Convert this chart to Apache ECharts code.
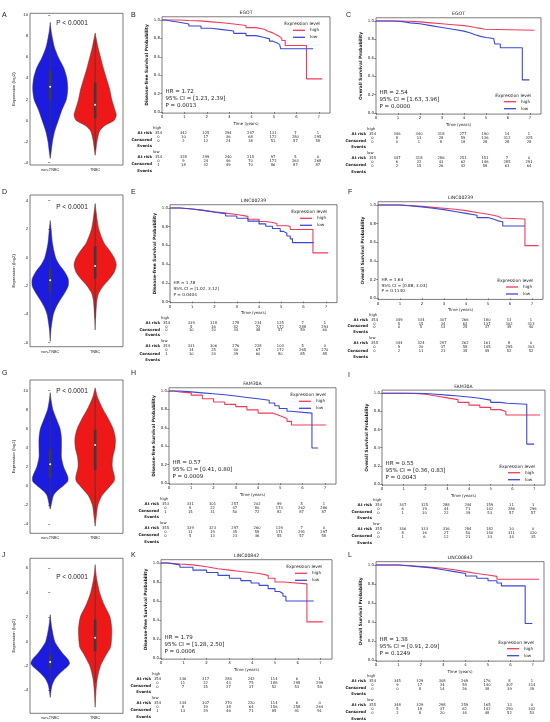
<!DOCTYPE html>
<html>
<head>
<meta charset="utf-8">
<title>TNBC lncRNA expression and survival</title>
<script src="https://cdn.jsdelivr.net/npm/echarts@6/dist/echarts.min.js"></script>
<style>
  html, body { margin: 0; padding: 0; background: #fff; }
  #main { width: 550px; height: 722px; }
</style>
</head>
<body>
<div id="main"></div>
<script type="text/javascript">
// ---------- data ----------
var GROUPS = ['non-TNBC', 'TNBC'];
var TIMES = [0, 1, 2, 3, 4, 5, 6, 7];
var KM_TICKS = [0, 0.2, 0.4, 0.6, 0.8, 1.0];

// violin profiles: [expression, half width (category units)]
var A_NON = [[9.3,0],[8.5,0.02],[8,0.04],[7,0.09],[6,0.18],[5,0.30],[4,0.37],[3,0.39],[2,0.36],[1,0.26],[0,0.18],[-1,0.10],[-2,0.05],[-3,0.02],[-3.6,0]];
var A_TN = [[8.3,0],[7,0.06],[6,0.12],[5,0.18],[4,0.25],[3,0.32],[2,0.37],[1,0.44],[0.5,0.47],[0,0.42],[-0.5,0.21],[-1,0.10],[-2,0.04],[-3,0.01],[-3.3,0]];
var D_NON = [[2.6,0],[2,0.02],[1,0.05],[0,0.12],[-0.5,0.2],[-1,0.32],[-1.5,0.40],[-2,0.40],[-2.5,0.32],[-3,0.22],[-3.5,0.13],[-4,0.07],[-5,0.02],[-5.9,0]];
var D_TN = [[3.8,0],[3,0.03],[2,0.08],[1,0.2],[0.5,0.32],[0,0.42],[-0.5,0.47],[-1,0.43],[-1.5,0.32],[-2,0.18],[-2.5,0.08],[-3,0.04],[-4,0.015],[-5.1,0]];
var G_NON = [[9.8,0],[9,0.02],[8,0.06],[7,0.14],[6,0.22],[5,0.25],[4,0.25],[3,0.25],[2,0.30],[1,0.39],[0.5,0.39],[0,0.28],[-0.5,0.15],[-1,0.07],[-2,0.02],[-2.4,0]];
var G_TN = [[10.3,0],[9.5,0.04],[9,0.08],[8,0.18],[7,0.3],[6,0.4],[5,0.45],[4,0.44],[3,0.39],[2,0.38],[1,0.43],[0.5,0.42],[0,0.33],[-1,0.15],[-2,0.06],[-3,0.03],[-4.2,0]];
var J_NON = [[2.2,0],[1.5,0.02],[1,0.04],[0,0.1],[-0.5,0.18],[-1,0.28],[-1.5,0.4],[-1.8,0.43],[-2,0.40],[-2.5,0.25],[-3,0.12],[-3.5,0.05],[-4,0.02],[-4.6,0]];
var J_TN = [[6.3,0],[5.5,0.02],[5,0.04],[4,0.1],[3,0.2],[2,0.33],[1,0.37],[0,0.36],[-0.5,0.34],[-1,0.26],[-2,0.12],[-3,0.05],[-4,0.02],[-5.4,0]];
// inner box: [lower whisker, q1, median, q3, upper whisker]
var A_BOX_NON = [-1.8, 1.9, 3.2, 4.7, 8.2];
var A_BOX_TN = [-2.8, 0.2, 1.5, 3.6, 7.6];
var D_BOX_NON = [-4.4, -2.4, -1.6, -0.8, 0.8];
var D_BOX_TN = [-4.3, -1.5, -0.6, 0.8, 3.1];
var G_BOX_NON = [-1.6, 0.9, 2.3, 3.9, 7.6];
var G_BOX_TN = [-2.8, 1.7, 4.3, 5.9, 9.4];
var J_BOX_NON = [-3.2, -2.2, -1.7, -1.1, 0.9];
var J_BOX_TN = [-3.4, -0.8, 0.3, 1.8, 5.0];

// Kaplan-Meier curves: [time (years), survival probability]
var B_HIGH = [[0,1],[0.8,0.995],[1.2,0.99],[1.7,0.98],[2.2,0.97],[2.7,0.957],[3.2,0.94],[3.75,0.917],[4.2,0.9],[4.57,0.88],[4.7,0.86],[4.95,0.84],[5.1,0.82],[5.25,0.80],[5.35,0.777],[5.5,0.723],[6.45,0.36],[7.15,0.36]];
var B_LOW = [[0,1],[0.15,0.99],[0.4,0.975],[0.77,0.957],[1.2,0.935],[1.74,0.91],[2.2,0.895],[2.7,0.88],[3.2,0.855],[3.75,0.83],[4.2,0.81],[4.57,0.795],[4.8,0.77],[4.95,0.755],[5.1,0.735],[5.25,0.72],[5.3,0.687],[6.75,0.687]];
var C_HIGH = [[0,1],[1,0.998],[1.5,0.99],[2,0.98],[2.5,0.97],[3,0.96],[3.5,0.95],[4,0.94],[4.3,0.93],[4.5,0.92],[4.75,0.91],[4.95,0.90],[7.2,0.90]];
var C_LOW = [[0,1],[0.6,0.998],[1,0.99],[1.3,0.98],[1.55,0.97],[2,0.95],[2.5,0.93],[3,0.91],[3.5,0.89],[4,0.87],[4.3,0.85],[4.5,0.83],[4.8,0.82],[5,0.81],[5.35,0.79],[5.4,0.75],[5.65,0.71],[6.65,0.36],[6.97,0.36]];
var E_HIGH = [[0,1],[0.45,0.99],[1,0.975],[1.5,0.96],[2,0.945],[2.5,0.93],[3,0.91],[3.5,0.88],[4,0.855],[4.3,0.845],[4.6,0.835],[4.8,0.81],[5.3,0.80],[5.4,0.77],[6.42,0.52],[7.1,0.52]];
var E_LOW = [[0,1],[0.45,0.99],[1,0.975],[1.5,0.955],[2,0.94],[2.5,0.915],[3,0.89],[3.5,0.86],[4,0.83],[4.3,0.805],[4.6,0.78],[4.95,0.75],[5.1,0.73],[5.25,0.70],[5.4,0.67],[5.5,0.63],[6.45,0.63]];
var F_HIGH = [[0,1],[1,0.995],[1.5,0.985],[2,0.975],[2.5,0.965],[3,0.955],[3.5,0.94],[4,0.92],[4.5,0.9],[5,0.88],[5.45,0.86],[5.6,0.85],[6.68,0.565],[7.3,0.565]];
var F_LOW = [[0,1],[1,0.99],[1.5,0.98],[2,0.965],[2.5,0.95],[3,0.93],[3.5,0.91],[4,0.89],[4.5,0.865],[5,0.845],[5.3,0.83],[5.45,0.82],[5.67,0.775],[6.68,0.775]];
var H_HIGH = [[0,1],[0.2,0.99],[0.48,0.98],[1,0.955],[1.5,0.915],[2,0.88],[2.5,0.855],[3,0.83],[3.5,0.795],[4,0.76],[4.65,0.74],[4.9,0.72],[5.1,0.70],[5.3,0.67],[5.5,0.63],[7.05,0.63]];
var H_LOW = [[0,1],[0.48,0.99],[1,0.98],[1.5,0.97],[2,0.96],[2.5,0.945],[3,0.93],[3.5,0.915],[4,0.90],[4.5,0.87],[4.75,0.84],[4.95,0.81],[5.3,0.78],[5.45,0.76],[6.42,0.38],[6.7,0.38]];
var I_HIGH = [[0,1],[1,0.998],[1.5,0.99],[2,0.97],[2.5,0.95],[3,0.93],[3.5,0.9],[4,0.87],[4.5,0.845],[5,0.82],[5.45,0.80],[5.7,0.76],[7.27,0.76]];
var I_LOW = [[0,1],[1.5,0.998],[2,0.99],[2.5,0.98],[3,0.97],[3.5,0.96],[4,0.945],[4.5,0.925],[5,0.90],[5.45,0.89],[5.75,0.88],[6.66,0.44],[7,0.44]];
var K_HIGH = [[0,1],[0.3,0.99],[0.83,0.98],[1.4,0.96],[2,0.94],[2.5,0.925],[3,0.91],[3.5,0.9],[3.95,0.89],[4.3,0.87],[4.7,0.84],[5,0.80],[5.4,0.78],[6.4,0.38],[7.1,0.38]];
var K_LOW = [[0,1],[0.3,0.98],[0.83,0.955],[1.4,0.925],[2,0.90],[2.5,0.87],[3,0.84],[3.5,0.815],[3.95,0.79],[4.3,0.765],[4.7,0.73],[5,0.70],[5.2,0.68],[5.35,0.65],[5.48,0.60],[6.7,0.60]];
var L_HIGH = [[0,1],[1,0.995],[1.5,0.985],[2,0.975],[2.5,0.965],[3,0.95],[3.5,0.93],[4,0.91],[4.5,0.895],[5,0.88],[5.4,0.85],[7.28,0.85]];
var L_LOW = [[0,1],[1,0.99],[1.5,0.98],[2,0.97],[2.5,0.95],[3,0.93],[3.5,0.91],[4,0.885],[4.5,0.86],[5,0.835],[5.4,0.81],[5.6,0.78],[6.66,0.385],[6.98,0.385]];

// risk tables: rows = at risk, censored, events; columns = TIMES
var B_TAB_HIGH = [[354,342,325,294,247,131,7,1],[0,10,17,36,68,172,280,295],[0,2,12,24,38,51,57,58]];
var B_TAB_LOW = [[354,328,299,240,215,97,5,0],[0,9,24,46,70,172,263,268],[1,18,32,49,70,86,87,87]];
var C_TAB_HIGH = [[354,346,340,318,277,190,14,1],[0,8,13,28,59,136,312,325],[0,0,1,8,18,28,28,28]];
var C_TAB_LOW = [[355,347,318,286,251,151,7,0],[0,6,22,43,62,146,285,291],[0,2,15,26,42,58,63,64]];
var E_TAB_HIGH = [[354,339,318,278,234,125,7,1],[0,5,16,42,72,172,288,293],[0,10,20,34,48,57,59,60]];
var E_TAB_LOW = [[354,331,306,276,228,103,5,0],[0,14,25,40,67,172,265,270],[1,10,24,39,60,80,85,85]];
var F_TAB_HIGH = [[354,349,334,307,266,180,13,1],[0,5,15,34,63,137,302,313],[0,0,5,13,25,37,39,40]];
var F_TAB_LOW = [[355,344,324,297,262,161,8,0],[0,9,20,37,58,145,295,303],[0,2,11,21,35,49,52,52]];
var H_TAB_HIGH = [[353,331,301,257,202,99,5,1],[0,8,22,47,80,173,262,286],[1,15,31,50,72,82,87,87]];
var H_TAB_LOW = [[355,339,323,297,260,129,7,0],[0,11,19,35,59,171,291,297],[0,5,13,23,36,55,57,58]];
var I_TAB_HIGH = [[354,347,325,288,244,159,11,1],[0,6,19,44,71,142,286,296],[0,1,10,22,39,53,57,57]];
var I_TAB_LOW = [[355,346,333,316,284,182,10,0],[0,8,16,27,50,140,311,320],[0,1,6,12,21,33,34,35]];
var K_TAB_HIGH = [[354,336,317,284,242,114,6,1],[0,11,22,43,75,188,295,299],[0,7,15,27,37,52,53,54]];
var K_TAB_LOW = [[354,334,307,270,220,114,6,0],[0,8,19,38,64,156,258,264],[1,13,29,46,71,85,91,91]];
var L_TAB_HIGH = [[354,345,329,308,269,176,8,1],[0,9,17,34,59,140,307,314],[0,0,8,14,26,38,39,39]];
var L_TAB_LOW = [[355,348,329,298,259,165,13,0],[0,5,18,37,62,142,290,302],[0,2,8,20,34,48,52,53]];

var B_STATS = ['HR = 1.72', '95% CI = [1.23, 2.39]', 'P = 0.0013'];
var C_STATS = ['HR = 2.54', '95% CI = [1.63, 3.96]', 'P = 0.0000'];
var E_STATS = ['HR = 1.78', '95% CI = [1.02, 3.12]', 'P = 0.0404'];
var F_STATS = ['HR = 1.64', '95% CI = [0.88, 3.03]', 'P = 0.1140'];
var H_STATS = ['HR = 0.57', '95% CI = [0.41, 0.80]', 'P = 0.0009'];
var I_STATS = ['HR = 0.55', '95% CI = [0.36, 0.83]', 'P = 0.0043'];
var K_STATS = ['HR = 1.79', '95% CI = [1.28, 2.50]', 'P = 0.0006'];
var L_STATS = ['HR = 1.38', '95% CI = [0.91, 2.09]', 'P = 0.1249'];

// ---------- layout / style ----------
var KM_RED = '#f03c5a', KM_BLUE = '#3a48d6';
var V_COL = ['#1c1ce0', '#ee1818'];
var FONT_KM = 'DejaVu Sans', FONT_V = 'Liberation Sans';
var DFS = 'Disease-free Survival Probability', OS = 'Overall Survival Probability';
var NUM_ROWS = [[21.5, 25.3, 29], [44.7, 48.8, 53]];     // offsets below the x axis
var LAB_ROWS = [[16.3, 21.3, 28, 33.7], [39.7, 44.7, 52.3, 58.7]];

var violins = [
  {letter: 'A', ly: 15, top: 13.3, h: 151.7, min: -4.22, max: 10.16, ticks: [-4,-2,0,2,4,6,8,10], prof: [A_NON, A_TN], box: [A_BOX_NON, A_BOX_TN], pY: 23},
  {letter: 'D', ly: 192, top: 195, h: 151.7, min: -6.28, max: 4.4, ticks: [-6,-4,-2,0,2,4], prof: [D_NON, D_TN], box: [D_BOX_NON, D_BOX_TN], pY: 207},
  {letter: 'G', ly: 373, top: 380, h: 153.3, min: -4.94, max: 11.12, ticks: [-4,-2,0,2,4,6,8,10], prof: [G_NON, G_TN], box: [G_BOX_NON, G_BOX_TN], pY: 391},
  {letter: 'J', ly: 555, top: 558.3, h: 155, min: -5.9, max: 6.82, ticks: [-4,-2,0,2,4,6], prof: [J_NON, J_TN], box: [J_BOX_NON, J_BOX_TN], pY: 577}
];

var kms = [
  {letter: 'B', lx: 131, ly: 15, title: 'EGOT', ylab: DFS, high: B_HIGH, low: B_LOW, tab: [B_TAB_HIGH, B_TAB_LOW], stats: B_STATS, left: 162, w: 168, y1: 20, y0: 112, leg: 'top', small: false},
  {letter: 'C', lx: 346, ly: 15, title: 'EGOT', ylab: OS, high: C_HIGH, low: C_LOW, tab: [C_TAB_HIGH, C_TAB_LOW], stats: C_STATS, left: 376, w: 165, y1: 21, y0: 113, leg: 'bottom', small: false},
  {letter: 'E', lx: 131, ly: 192, title: 'LINC00239', ylab: DFS, high: E_HIGH, low: E_LOW, tab: [E_TAB_HIGH, E_TAB_LOW], stats: E_STATS, left: 170, w: 167, y1: 208, y0: 301.5, leg: 'top', small: true},
  {letter: 'F', lx: 348, ly: 192, title: 'LINC00239', ylab: OS, high: F_HIGH, low: F_LOW, tab: [F_TAB_HIGH, F_TAB_LOW], stats: F_STATS, left: 378, w: 165, y1: 205, y0: 298.3, leg: 'bottom', small: true},
  {letter: 'H', lx: 131, ly: 373, title: 'FAM30A', ylab: DFS, high: H_HIGH, low: H_LOW, tab: [H_TAB_HIGH, H_TAB_LOW], stats: H_STATS, left: 169, w: 167, y1: 391, y0: 483, leg: 'top', small: false},
  {letter: 'I', lx: 348, ly: 375, title: 'FAM30A', ylab: OS, high: I_HIGH, low: I_LOW, tab: [I_TAB_HIGH, I_TAB_LOW], stats: I_STATS, left: 382, w: 163, y1: 393.3, y0: 484, leg: 'bottom', small: false},
  {letter: 'K', lx: 131, ly: 555, title: 'LINC00842', ylab: DFS, high: K_HIGH, low: K_LOW, tab: [K_TAB_HIGH, K_TAB_LOW], stats: K_STATS, left: 161, w: 171, y1: 563, y0: 658, leg: 'top', small: false},
  {letter: 'L', lx: 348, ly: 555, title: 'LINC00842', ylab: OS, high: L_HIGH, low: L_LOW, tab: [L_TAB_HIGH, L_TAB_LOW], stats: L_STATS, left: 376, w: 168, y1: 565, y0: 660, leg: 'bottom', small: false}
];

var chart = echarts.init(document.getElementById('main'));
var option = {animation: false, grid: [], xAxis: [], yAxis: [], series: [], legend: [], graphic: {elements: []}};
var G = option.graphic.elements;

function txt(x, y, s, size, o) {
  o = o || {};
  G.push({type: 'text', x: x, y: y, silent: true, style: {
    text: s, fontSize: size, fontFamily: o.font || FONT_KM, fontWeight: o.bold ? 'bold' : 'normal',
    fill: '#1a1a1a', align: o.align || 'left', textAlign: o.align || 'left',
    verticalAlign: 'middle', textVerticalAlign: 'middle'}});
}

function violinRender(v) {
  return function (params, api) {
    var i = params.dataIndex, prof = v.prof[i], b = v.box[i];
    var cx = api.coord([i, 0])[0], unit = api.size([1, 0])[0];
    var yy = function (val) { return api.coord([i, val])[1]; };
    var pts = [];
    prof.forEach(function (d) { pts.push([cx + d[1] * unit, yy(d[0])]); });
    for (var k = prof.length - 1; k >= 0; k--) pts.push([cx - prof[k][1] * unit, yy(prof[k][0])]);
    return {type: 'group', children: [
      {type: 'polygon', shape: {points: pts, smooth: 0.25}, style: {fill: V_COL[i], stroke: '#3c3c3c', lineWidth: 0.5}},
      {type: 'line', shape: {x1: cx, y1: yy(b[0]), x2: cx, y2: yy(b[4])}, style: {stroke: '#3c3c3c', lineWidth: 0.8}},
      {type: 'rect', shape: {x: cx - 1.3, y: yy(b[3]), width: 2.6, height: yy(b[1]) - yy(b[3])}, style: {fill: '#3c3c3c'}},
      {type: 'circle', shape: {cx: cx, cy: yy(b[2]), r: 1.0}, style: {fill: '#ffffff'}}
    ]};
  };
}

// violin panels (categories sit at 0 and 1 on a value axis, as in seaborn)
violins.forEach(function (v) {
  var gi = option.grid.length;
  option.grid.push({left: 30, top: v.top, width: 93, height: v.h, show: true, borderColor: '#444', borderWidth: 0.7});
  option.xAxis.push({type: 'value', gridIndex: gi, min: -0.45, max: 1.62,
    splitLine: {show: false}, axisLine: {show: false},
    axisTick: {customValues: [0, 1], length: 2, lineStyle: {color: '#444', width: 0.6}},
    axisLabel: {customValues: [0, 1], fontSize: 3.8, margin: 3, color: '#222', fontFamily: FONT_V,
      formatter: function (val) { return GROUPS[Math.round(val)]; }}});
  option.yAxis.push({type: 'value', gridIndex: gi, min: v.min, max: v.max,
    name: 'Expression (log2)', nameLocation: 'middle', nameGap: 14,
    nameTextStyle: {fontSize: 4.3, color: '#222', fontFamily: FONT_V},
    splitLine: {show: false}, axisLine: {show: false},
    axisTick: {customValues: v.ticks, length: 2, lineStyle: {color: '#444', width: 0.6}},
    axisLabel: {customValues: v.ticks, fontSize: 4.2, margin: 2, color: '#222', fontFamily: FONT_V}});
  option.series.push({type: 'custom', xAxisIndex: gi, yAxisIndex: gi, data: [[0, 0], [1, 0]], renderItem: violinRender(v)});
  txt(72, v.pY, 'P < 0.0001', 6.5, {font: FONT_V, align: 'center'});
  txt(2, v.ly, v.letter, 7, {font: FONT_V});
});

// survival panels
kms.forEach(function (p) {
  var k = p.y0 - p.y1;
  var gi = option.grid.length;
  option.grid.push({left: p.left, top: p.y1 - 0.035 * k, width: p.w, height: 1.047 * k, show: true, borderColor: '#444', borderWidth: 0.7});
  option.xAxis.push({type: 'value', gridIndex: gi, min: 0, max: 7.5,
    name: 'Time (years)', nameLocation: 'middle', nameGap: 8.5,
    nameTextStyle: {fontSize: 4, color: '#222', fontFamily: FONT_KM},
    splitLine: {show: false}, axisLine: {show: false},
    axisTick: {customValues: TIMES, length: 1.8, lineStyle: {color: '#444', width: 0.6}},
    axisLabel: {customValues: TIMES, fontSize: 3.9, margin: 2.2, color: '#222', fontFamily: FONT_KM}});
  option.yAxis.push({type: 'value', gridIndex: gi, min: -0.012, max: 1.035,
    name: p.ylab, nameLocation: 'middle', nameGap: 13,
    nameTextStyle: {fontSize: 4.4, fontWeight: 'bold', color: '#222', fontFamily: FONT_KM},
    splitLine: {show: false}, axisLine: {show: false},
    axisTick: {customValues: KM_TICKS, length: 1.8, lineStyle: {color: '#444', width: 0.6}},
    axisLabel: {customValues: KM_TICKS, fontSize: 3.9, margin: 2, color: '#222', fontFamily: FONT_KM,
      formatter: function (val) { return val.toFixed(1); }}});
  option.series.push({name: 'high', type: 'line', xAxisIndex: gi, yAxisIndex: gi, data: p.high, step: 'end',
    showSymbol: false, symbol: 'none', lineStyle: {color: KM_RED, width: 1.1}, itemStyle: {color: KM_RED}, z: 3});
  option.series.push({name: 'low', type: 'line', xAxisIndex: gi, yAxisIndex: gi, data: p.low, step: 'end',
    showSymbol: false, symbol: 'none', lineStyle: {color: KM_BLUE, width: 1.1}, itemStyle: {color: KM_BLUE}, z: 4});

  // risk table, positioned with the same time scale as the plot
  var tg = option.grid.length;
  option.grid.push({left: p.left, top: p.y0, width: p.w, height: 62, show: false});
  option.xAxis.push({type: 'value', gridIndex: tg, min: 0, max: 7.5, show: false});
  option.yAxis.push({type: 'value', gridIndex: tg, min: 0, max: 62, inverse: true, show: false});
  var cells = [];
  p.tab.forEach(function (grp, g) {
    grp.forEach(function (row, r) {
      row.forEach(function (val, c) { cells.push([TIMES[c], NUM_ROWS[g][r], val]); });
    });
  });
  option.series.push({type: 'custom', xAxisIndex: tg, yAxisIndex: tg, data: cells, silent: true,
    renderItem: function (params, api) {
      var pt = api.coord([api.value(0), api.value(1)]);
      var dx = api.value(0) === 0 ? -3.5 : -1;
      return {type: 'text', x: pt[0] + dx, y: pt[1], style: {text: String(api.value(2)), fontSize: 3.7,
        fontFamily: FONT_KM, fill: '#222', align: 'center', textAlign: 'center', verticalAlign: 'middle', textVerticalAlign: 'middle'}};
    }});
  ['high', 'low'].forEach(function (nm, g) {
    var rows = LAB_ROWS[g];
    txt(p.left - 9, p.y0 + rows[0], nm, 3.8, {});
    txt(p.left - 10, p.y0 + rows[1], 'At risk', 3.9, {bold: true, align: 'right'});
    txt(p.left - 10, p.y0 + rows[2], 'Censored', 3.9, {bold: true, align: 'right'});
    txt(p.left - 10, p.y0 + rows[3], 'Events', 3.9, {bold: true, align: 'right'});
  });

  // legend
  var legLeft = p.left + p.w - 37;
  var firstY = p.leg === 'top' ? p.y1 + 10.3 : p.y0 - 11.3;
  var titleY = p.leg === 'top' ? p.y1 + 3.5 : p.y0 - 17.5;
  option.legend.push({data: ['high', 'low'], orient: 'vertical', left: legLeft, top: firstY - 3.5, padding: 0,
    itemGap: 0, itemWidth: 12, itemHeight: 1.3, icon: 'rect', selectedMode: false,
    textStyle: {fontSize: 4.2, lineHeight: 7, color: '#222', fontFamily: FONT_KM}});
  txt(legLeft + 9, titleY, 'Expression level', 4.4, {align: 'center'});

  // title, stats, panel letter
  txt(p.left + p.w / 2, p.y1 - 7, p.title, 4.6, {align: 'center'});
  var so = p.small ? [-18.5, -12.8, -7] : [-20.5, -13.3, -6];
  p.stats.forEach(function (s, j) { txt(p.left + 3.5, p.y0 + so[j], s, p.small ? 4.2 : 5.5, {}); });
  txt(p.lx, p.ly, p.letter, 7, {font: FONT_V});
});

chart.setOption(option);
</script>
</body>
</html>
